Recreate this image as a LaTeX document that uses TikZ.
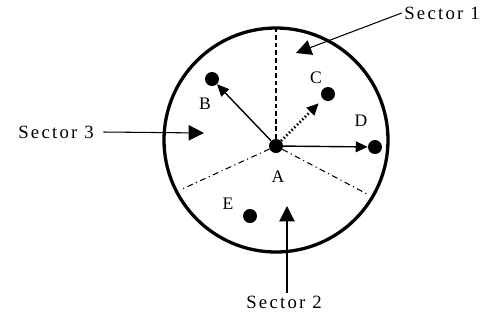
\documentclass[tikz,border=0pt]{standalone}
\usepackage{fontspec}
\setmainfont{Liberation Serif}
\usetikzlibrary{arrows.meta,positioning}

\begin{document}
\begin{tikzpicture}[
  x=0.03cm,y=-0.03cm,font=\fontsize{15}{17}\selectfont,
  rim/.style={draw=black,line width=2.8pt},
  border/.style={draw=black,line width=0.9pt},
  dot/.style={circle,fill=black,inner sep=0pt,minimum size=0.42cm},
  tag/.style={inner sep=1pt},
  sector/.style={inner sep=2pt,font=\fontsize{16}{18}\selectfont\addfontfeatures{LetterSpace=12}},
  move/.style={-{Triangle[length=3.6mm,width=3.2mm]},line width=1.2pt},
  hint/.style={-{Triangle[length=4.6mm,width=4.6mm]},line width=0.9pt}
]
\useasboundingbox (0,0) rectangle (491,322);

% the cell and its three sectors
\draw[rim] (276,140) circle[radius=112*0.03cm];
\node[dot] (a) at (276,146) {};
\coordinate (top) at (276,29);
\coordinate (lowleft) at (180,190);
\coordinate (lowright) at (369,195);
\draw[border,dash pattern=on 4pt off 2.5pt] (a) -- (top);
\draw[border,dash pattern=on 5pt off 3pt on 1pt off 3pt] (a) -- (lowleft);
\draw[border,dash pattern=on 5pt off 3pt on 1pt off 3pt] (a) -- (lowright);

% nodes
\node[dot] (b) at (212,79) {};
\node[dot] (c) at (328,94) {};
\node[dot] (d) at (375,147) {};
\node[dot] (e) at (250,216) {};
\node[tag] (la) at (278,177) {A};
\node[tag] (lb) at (205,104) {B};
\node[tag] (lc) at (316,78) {C};
\node[tag] (ld) at (361,121) {D};
\node[tag] (le) at (228,204) {E};

\draw[move] (a) -- (b);
\draw[move,dotted,line width=2.4pt,shorten >=5pt] (a) -- (c);
\draw[move] (a) -- (d);

% sector labels
\node[sector] (s1) at (442,13) {Sector 1};
\node[sector] (s2) at (284,302) {Sector 2};
\node[sector] (s3) at (56,132) {Sector 3};
\coordinate (in1) at (296,53);
\coordinate (in2) at (287,206);
\coordinate (in3) at (204,133);
\draw[hint] (s1.west) -- (in1);
\draw[hint] (in2 |- s2.north) -- (in2);
\draw[hint] ([xshift=6pt]s3.east) -- (in3);

\end{tikzpicture}
\end{document}
